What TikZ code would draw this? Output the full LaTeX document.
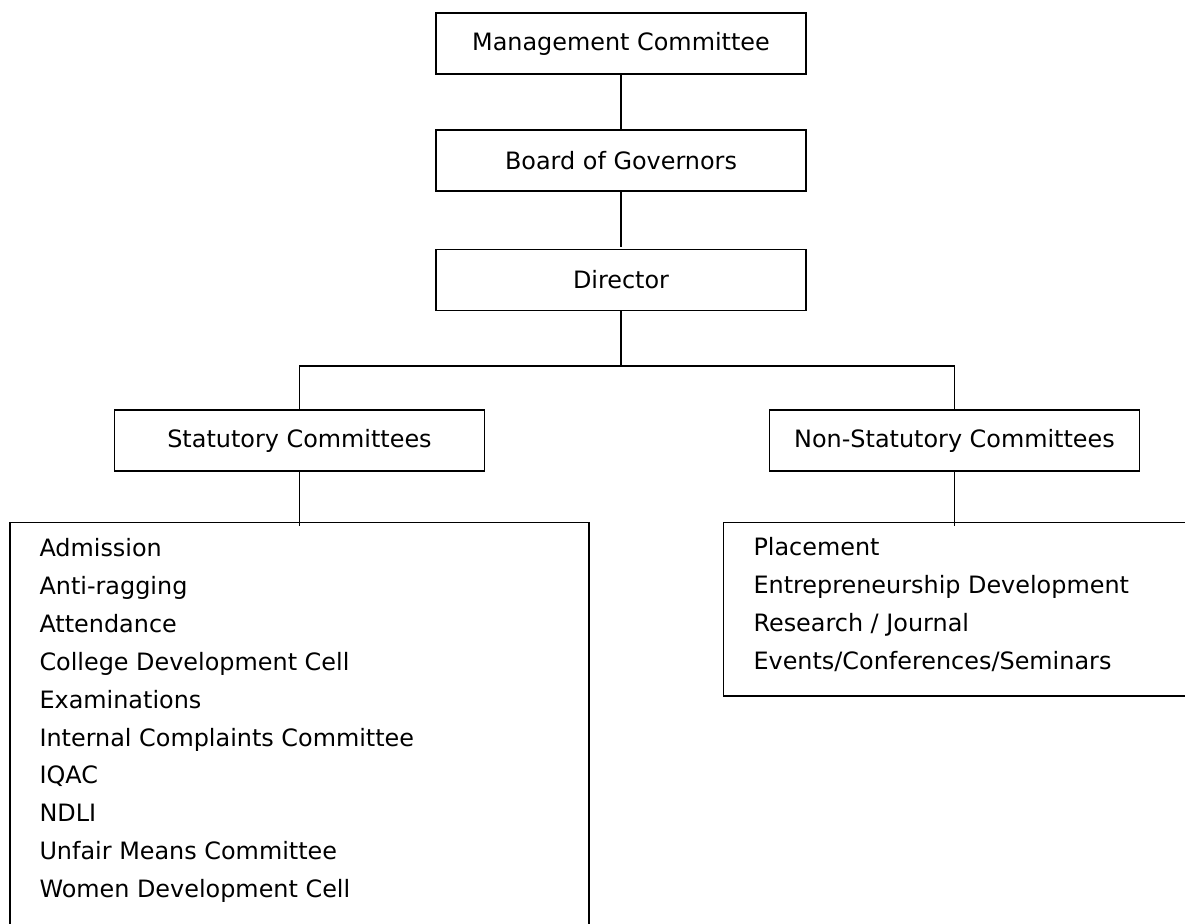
\documentclass[tikz,border=0pt]{standalone}
\usepackage{fontspec}
\setmainfont{DejaVu Sans}
\begin{document}
\begin{tikzpicture}[x=1pt,y=-1pt,
  every node/.style={font=\fontsize{23.9}{28}\selectfont, inner sep=0pt},
  orgbox/.style={draw, line width=1.5pt, minimum width=370pt, minimum height=61pt},
  listbox/.style={draw, line width=1.5pt, anchor=north west},
  item/.style={anchor=base west},
  link/.style={line width=1.8pt}]
\useasboundingbox (0,0) rectangle (1185,923);

% upper chain
\node[orgbox] (mc)  at (621,43.7)  {Management Committee};
\node[orgbox] (bog) at (621,160.5) {Board of Governors};
\node[orgbox] (dir) at (621,280)   {Director};

% the two committee groups
\node[orgbox] (stat) at (299.5,440.5) {Statutory Committees};
\node[orgbox] (nstat) at (954.5,440.5) {Non-Statutory Committees};

% list frames (they run past the page edge)
\node[listbox, minimum width=579pt, minimum height=460pt] (slist) at (9,521.7) {};
\node[listbox, minimum width=500pt, minimum height=173.3pt] (nlist) at (722.7,521.7) {};

% statutory committees
\foreach \t [count=\i] in {Admission, Anti-ragging, Attendance,
    College Development Cell, Examinations, Internal Complaints Committee,
    IQAC, NDLI, Unfair Means Committee, Women Development Cell}
  \node[item] (s\i) at (39.3,{556.5+37.9*(\i-1)}) {\t};

% non-statutory committees
\foreach \t [count=\i] in {Placement, Entrepreneurship Development,
    Research / Journal, Events/Conferences/Seminars}
  \node[item] (n\i) at (753.3,{555.5+38.1*(\i-1)}) {\t};

% connectors
\coordinate (hub) at (621,366);
\draw[link] (mc.south) -- (bog.north);
\draw[link] (bog.south) -- ([yshift=2pt]dir.north);
\draw[link] (dir.south) -- (hub);
\draw[link] (stat.north) |- (hub) -| (nstat.north);
\draw[link] (stat.south) -- ([yshift=-4pt]stat.south |- slist.north);
\draw[link] (nstat.south) -- ([yshift=-4pt]nstat.south |- nlist.north);
\end{tikzpicture}
\end{document}
